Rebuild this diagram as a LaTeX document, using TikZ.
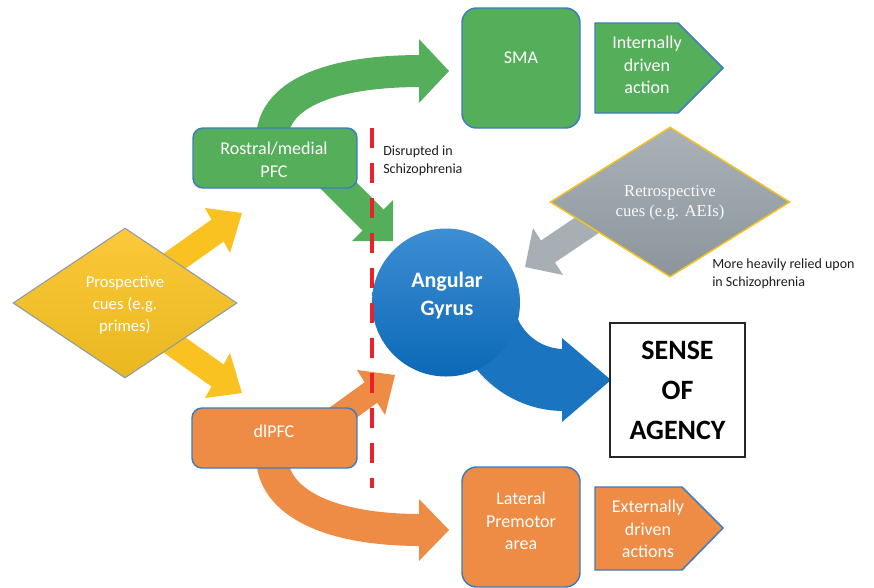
\documentclass[tikz,border=0pt]{standalone}
\usepackage{fontspec}
\setmainfont{Carlito}
\newfontfamily\serifcue{Liberation Serif}
\usetikzlibrary{shapes.geometric}
\definecolor{grn}{HTML}{55AE5A}
\definecolor{org}{HTML}{EE8B45}
\definecolor{ylw}{HTML}{FAC221}
\definecolor{ylwl}{HTML}{FBC93A}
\definecolor{ylwd}{HTML}{E9B71E}
\definecolor{ylwb}{HTML}{8E9AA6}
\definecolor{blu}{HTML}{1A74C0}
\definecolor{blul}{HTML}{3D8ED3}
\definecolor{blud}{HTML}{0C69B6}
\definecolor{gry}{HTML}{A7AFB4}
\definecolor{gryl}{HTML}{AAB2B8}
\definecolor{gryd}{HTML}{8C959C}
\definecolor{bord}{HTML}{3D7CC0}
\definecolor{gold}{HTML}{F7C31E}
\definecolor{redd}{HTML}{E8212B}
\definecolor{lbltxt}{HTML}{1E1E1E}
\begin{document}
\begin{tikzpicture}[x=0.75pt,y=-0.75pt,
  box/.style={draw=bord, line width=1.1pt, inner sep=0pt},
  wtxt/.style={text=white, align=center, inner sep=0pt, font=\fontsize{13.5}{17}\selectfont},
  lbl/.style={text=lbltxt, align=left, inner sep=0pt, anchor=west, font=\fontsize{10.5}{13.5}\selectfont},
  sign/.style={draw=bord, line width=1.1pt}
]
\useasboundingbox (0,0) rectangle (874,587);
\fill[white] (0,0) rectangle (874,587);

% ---------- block arrows (drawn beneath the nodes) ----------
% green: Rostral/medial PFC -> SMA
\coordinate (gt0) at (272,165);
\coordinate (gt1) at (272,140);
\coordinate (gt2) at (421,71);
\draw[grn, line width=24pt] (gt0) -- (gt1) .. controls (272,95) and (328,71) .. (gt2);
\fill[grn] (419,39) -- (449,71) -- (419,103) -- cycle;
% green: Rostral/medial PFC -> Angular Gyrus
\coordinate (gd0) at (318,165);
\coordinate (gd1) at (375,222);
\draw[grn, line width=22.5pt] (gd0) -- (gd1);
\fill[grn] (393,200) -- (393,241) -- (352,241) -- cycle;
% orange: dlPFC -> Angular Gyrus
\coordinate (od0) at (326,425);
\coordinate (od1) at (373,391);
\draw[org, line width=18pt] (od0) -- (od1);
\fill[org] (357,370) -- (395,375) -- (385,415) -- cycle;
% orange: dlPFC -> Lateral Premotor area
\coordinate (ob0) at (272,445);
\coordinate (ob1) at (272,456);
\coordinate (ob2) at (421,530);
\draw[org, line width=24pt] (ob0) -- (ob1) .. controls (272,502) and (328,530) .. (ob2);
\fill[org] (419,499) -- (449,530) -- (419,561) -- cycle;
% yellow: Prospective cues -> both PFC regions
\coordinate (yu0) at (152,277);
\coordinate (yu1) at (219,229.5);
\draw[ylw, line width=18.75pt] (yu0) -- (yu1);
\fill[ylw] (205,208) -- (242,213) -- (230,253) -- cycle;
\coordinate (yl0) at (152,329);
\coordinate (yl1) at (219,376.5);
\draw[ylw, line width=18.75pt] (yl0) -- (yl1);
\fill[ylw] (205,398) -- (242,393) -- (230,353) -- cycle;
% grey: Retrospective cues -> Angular Gyrus
\coordinate (gr0) at (614,207);
\coordinate (gr1) at (546,252.8);
\draw[gry, line width=19.5pt] (gr0) -- (gr1);
\fill[gry] (533,228) -- (525,267) -- (563,275) -- cycle;
% blue: Angular Gyrus -> Sense of agency
\coordinate (bl0) at (484,314);
\coordinate (bl1) at (564,380);
\draw[blu, line width=46.5pt] (bl0) .. controls (491,351) and (524,380) .. (bl1);
\fill[blu] (562,338) -- (611,380) -- (562,422) -- cycle;

% ---------- nodes ----------
\node[box, fill=grn, rounded corners=11pt, minimum width=88.5pt, minimum height=90pt] (sma) at (521,68) {};
\node[wtxt] (smat) at (521,58) {SMA};

\filldraw[sign, fill=grn] (595,23) -- (678,23) -- (723,68) -- (678,113) -- (595,113) -- cycle;
\node[wtxt] (ida) at (647,65) {Internally\\driven\\action};

\node[box, fill=grn, rounded corners=7.5pt, minimum width=123pt, minimum height=45pt] (rpfc) at (275,158) {};
\node[wtxt] (rpfct) at (274,160) {Rostral/medial\\PFC};

\node[box, fill=org, rounded corners=7.5pt, minimum width=123.75pt, minimum height=45pt] (dl) at (274.5,438) {};
\node[wtxt] (dlt) at (274,431) {dlPFC};

\node[box, fill=org, rounded corners=11pt, minimum width=88.5pt, minimum height=90pt] (lpa) at (521,527) {};
\node[wtxt] (lpat) at (521,521) {Lateral\\Premotor\\area};

\filldraw[sign, fill=org] (595,487) -- (682,487) -- (723,528) -- (682,570) -- (595,570) -- cycle;
\node[wtxt] (eda) at (648,529) {Externally\\driven\\actions};

\node[diamond, draw=ylwb, line width=0.8pt, top color=ylwl, bottom color=ylwd,
      minimum width=168pt, minimum height=112.5pt, inner sep=0pt] (pro) at (125,303) {};
\node[text=white, align=center, inner sep=0pt, font=\fontsize{12.5}{16.5}\selectfont] (prot) at (125,305) {Prospective\\cues (e.g.\\primes)};

\node[diamond, draw=gold, line width=1.1pt, top color=gryl, bottom color=gryd,
      minimum width=180pt, minimum height=112.5pt, inner sep=0pt] (ret) at (670,202) {};
\node[text=white!95!gray, align=center, inner sep=0pt, font=\serifcue\fontsize{12.5}{15}\selectfont] (rett) at (670,203) {Retrospective\\cues (e.g. AEIs)};

\node[circle, minimum size=111pt, inner sep=0pt, top color=blul, bottom color=blud] (ag) at (446,302.5) {};
\node[text=white, align=center, inner sep=0pt, font=\bfseries\fontsize{16.5}{21}\selectfont] (agt) at (447,296) {Angular\\Gyrus};

\node[draw=black!85, line width=1.5pt, fill=white, minimum width=101.25pt, minimum height=100.5pt,
      inner sep=0pt, align=center, font=\bfseries\fontsize{21}{30}\selectfont] (soa) at (677.5,390) {SENSE\\OF\\AGENCY};

\node[lbl] (dis) at (383,161) {Disrupted in\\Schizophrenia};
\node[lbl] (mhr) at (712,274) {More heavily relied upon\\in Schizophrenia};

% ---------- red dashed boundary ----------
\coordinate (r0) at (372,128);
\coordinate (r1) at (372,488);
\draw[redd, line width=3pt, dash pattern=on 15pt off 11.25pt] (r0) -- (r1);
\end{tikzpicture}
\end{document}
